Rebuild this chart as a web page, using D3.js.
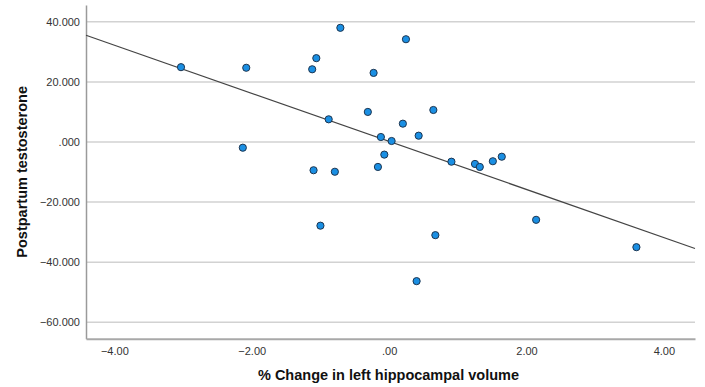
<!DOCTYPE html>
<html>
<head>
<meta charset="utf-8">
<script src="https://cdn.jsdelivr.net/npm/d3@7"></script>
<style>
  html, body { margin: 0; padding: 0; background: #fff; }
  svg { display: block; }
  text { font-family: "Liberation Sans", Arial, sans-serif; }
</style>
</head>
<body>
<svg id="chart" width="705" height="387"></svg>
<script>
// ---- data ----
const xValues = [-3.03, -2.08, -2.13, -1.12, -1.06, -0.71, -0.88, -1.10, -0.79, 0.245,
                 -0.226, -0.31, 0.644, 0.20, 0.43, -0.12, 0.036, -0.07, -0.163, 0.907,
                 1.25, 1.32, 1.51, 1.64, -1.00, 0.673, 2.14, 3.60, 0.40];
const yValues = [24.9, 24.7, -1.9, 24.2, 27.9, 38.0, 7.55, -9.4, -9.9, 34.2,
                 23.0, 10.0, 10.65, 6.1, 2.1, 1.66, 0.33, -4.2, -8.3, -6.56,
                 -7.3, -8.3, -6.4, -4.9, -27.85, -31.0, -25.9, -35.0, -46.3];
const xTicks = [-4, -2, 0, 2, 4];
const yTicks = [40, 20, 0, -20, -40, -60];
const fitIntercept = 0.2;
const fitSlope = -8.0;
const xTitle = "% Change in left hippocampal volume";
const yTitle = "Postpartum testosterone";

// ---- layout ----
const svg = d3.select("#chart");
const pLeft = 86, pRight = 695, pTop = 5, pBottom = 338.7;
const x = d3.scaleLinear().domain([-4.413, 4.453]).range([pLeft, pRight]);
const y = d3.scaleLinear().domain([-65.46, 45.59]).range([pBottom, pTop]);

const stripZero = s => s.replace(/^0\./, ".").replace(/^−0\./, "−.");
const fmtX = d => stripZero(d3.format(".2f")(d));
const fmtY = d => stripZero(d3.format(".3f")(d));

// gridlines
svg.append("g").selectAll("line").data(yTicks).join("line")
  .attr("x1", pLeft).attr("x2", pRight)
  .attr("y1", d => y(d)).attr("y2", d => y(d))
  .attr("stroke", "#d2d2d2").attr("stroke-width", 1.5);

// y axis
const yAxis = svg.append("g").attr("transform", `translate(${pLeft},0)`)
  .call(d3.axisLeft(y).tickValues(yTicks).tickFormat(fmtY).tickSize(0).tickPadding(6));
yAxis.select(".domain").attr("stroke", "#9a9a9a").attr("stroke-width", 1.5);
yAxis.selectAll("text").attr("font-size", 11).attr("fill", "#333");

// x axis
const xAxis = svg.append("g").attr("transform", `translate(0,${pBottom})`)
  .call(d3.axisBottom(x).tickValues(xTicks).tickFormat(fmtX).tickSize(0).tickPadding(9));
xAxis.select(".domain").attr("stroke", "#a8a8a8").attr("stroke-width", 2);
xAxis.selectAll("text").attr("font-size", 11).attr("fill", "#333");

// fit line
const xd = x.domain();
svg.append("line")
  .attr("x1", x(xd[0])).attr("y1", y(fitIntercept + fitSlope * xd[0]))
  .attr("x2", x(xd[1])).attr("y2", y(fitIntercept + fitSlope * xd[1]))
  .attr("stroke", "#444").attr("stroke-width", 1.2);

// points
const pts = xValues.map((v, i) => ({x: v, y: yValues[i]}));
svg.append("g").selectAll("circle").data(pts).join("circle")
  .attr("cx", d => x(d.x)).attr("cy", d => y(d.y)).attr("r", 3.6)
  .attr("fill", "#1a8fe3").attr("stroke", "#1d3550").attr("stroke-width", 1);

// titles
svg.append("text").attr("x", (pLeft + pRight) / 2 - 2).attr("y", 380)
  .attr("text-anchor", "middle").attr("font-size", 14.5).attr("font-weight", "bold")
  .attr("fill", "#111").text(xTitle);
svg.append("text")
  .attr("transform", `translate(27,${(pTop + pBottom) / 2}) rotate(-90)`)
  .attr("text-anchor", "middle").attr("font-size", 14.5).attr("font-weight", "bold")
  .attr("fill", "#111").text(yTitle);
</script>
</body>
</html>
